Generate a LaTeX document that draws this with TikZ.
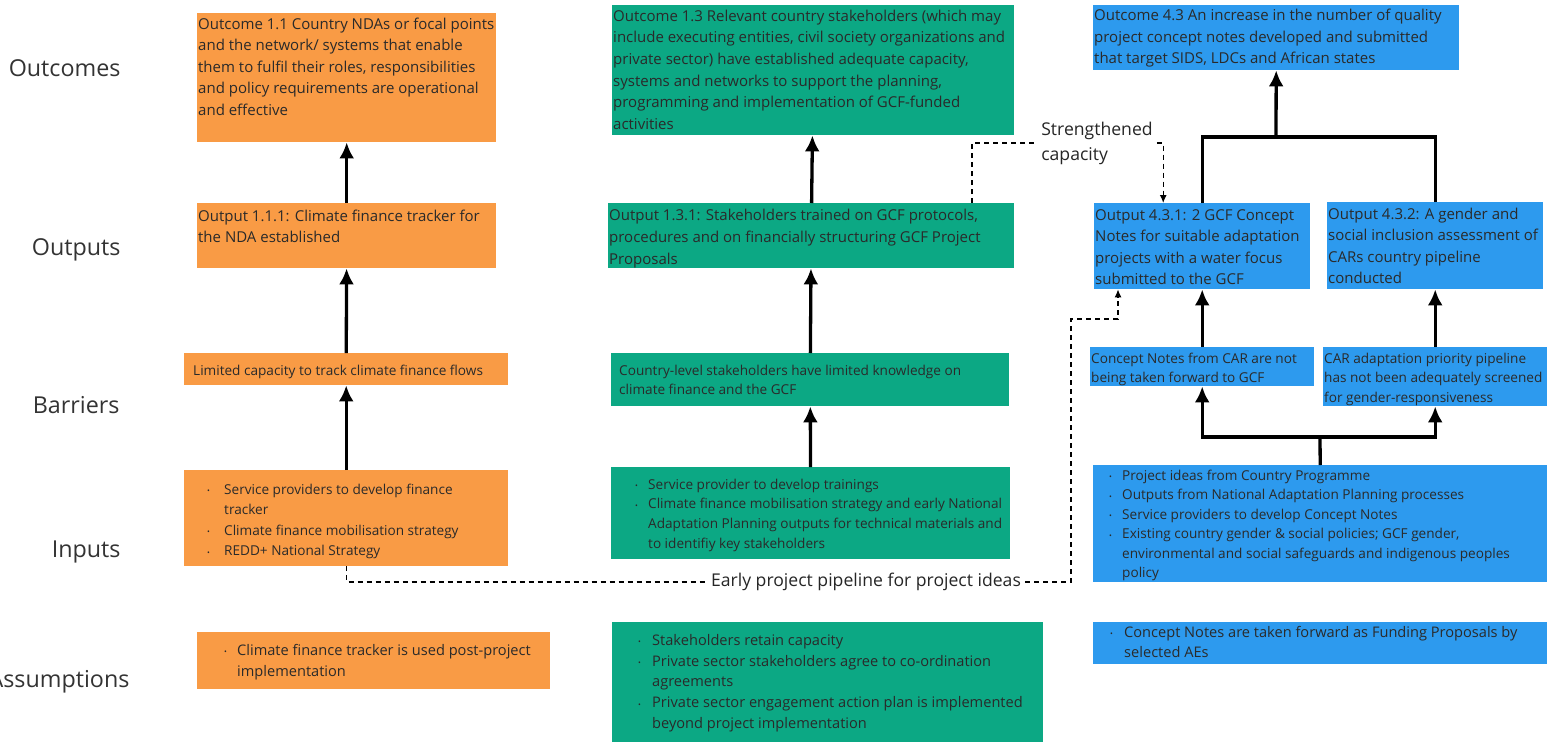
\documentclass[tikz,border=0pt]{standalone}
\usepackage{fontspec}
\setmainfont{Open Sans}
\usepackage{xcolor}
\usetikzlibrary{arrows.meta}
\definecolor{orbox}{HTML}{F99B45}
\definecolor{grbox}{HTML}{0CA884}
\definecolor{blbox}{HTML}{2D9AEE}
\definecolor{txt}{HTML}{2A2A2A}
\newcommand\fs[2]{\fontsize{#1pt}{#2pt}\selectfont}
\newcommand\bul{\raisebox{0.5pt}{\fontsize{7.5pt}{7.5pt}\selectfont\textbullet}}
% width, height, left pad, first baseline, text
\newcommand\tbox[5]{\parbox[t][#2pt][t]{#1pt}{\raggedright\leftskip=#3pt\rule{0pt}{#4pt}#5}}
\newcommand\lbox[3]{\parbox[t][#2pt][t]{#1pt}{\raggedright#3}}
\newcommand\itm[4][0]{\par\leftskip=#3pt\noindent\rule{0pt}{#1pt}\hspace*{\dimexpr#2pt-#3pt\relax}\makebox[\dimexpr#3pt-#2pt\relax][l]{\bul}#4\par}
\tikzset{
  tbx/.style={anchor=north west, inner sep=0pt, text=txt},
  orangebox/.style={tbx, fill=orbox},
  greenbox/.style={tbx, fill=grbox},
  bluebox/.style={tbx, fill=blbox},
  lvl/.style={anchor=base east, font=\fs{23.3}{27}, text=black!80},
  arr/.style={line width=3.3pt, -{Latex[length=16pt,width=15pt]}},
  conn/.style={line width=3.3pt},
  dsh/.style={line width=1.2pt, dash pattern=on 5pt off 4pt},
  darr/.style={dsh, -{Latex[length=8pt,width=7pt]}},
  note/.style={fill=white, font=\fs{17.6}{25}, inner sep=4pt, align=left, text=black!85}
}
\begin{document}
\begin{tikzpicture}[x=1pt,y=-1pt]
\fill[white] (0,0) rectangle (1552,747);
\useasboundingbox (0,0) rectangle (1552,747);

\node[lvl] (lOutcomes) at (124,76) {Outcomes};
\node[lvl] (lOutputs) at (124,255) {Outputs};
\node[lvl] (lBarriers) at (123,413) {Barriers};
\node[lvl] (lInputs) at (124,557) {Inputs};
\node[lvl] (lAssumptions) at (133,687) {Assumptions};

% orange column
\node[orangebox, font=\fs{15}{21.5}] (oc11) at (197,13) {\tbox{299}{129}{1}{16}{Outcome 1.1 Country NDAs or focal points\\and the network/ systems that enable\\them to fulfil their roles, responsibilities\\and policy requirements are operational\\and effective}};
\node[orangebox, font=\fs{15}{21.5}] (op111) at (197,203) {\tbox{299}{65}{1}{18}{Output 1.1.1: Climate finance tracker for\\the NDA established}};
\node[orangebox, font=\fs{13.6}{18}] (obar) at (184,353) {\tbox{324}{32}{9}{22}{Limited capacity to track climate finance flows}};
\node[orangebox, font=\fs{13.6}{20.5}] (oin) at (184,470) {\lbox{324}{96}{\itm[24]{23}{40}{Service providers to develop finance\\tracker}\itm{23}{40}{Climate finance mobilisation strategy}\itm{23}{40}{REDD+ National Strategy}}};
\node[orangebox, font=\fs{14.6}{21}] (oas) at (197,632) {\lbox{353}{57}{\itm[23]{27}{40}{Climate finance tracker is used post-project\\implementation}}};

% green column
\node[greenbox, font=\fs{15}{21.6}] (oc13) at (612,5) {\tbox{402}{130}{1}{16}{Outcome 1.3 Relevant country stakeholders (which may\\include executing entities, civil society organizations and\\private sector) have established adequate capacity,\\systems and networks to support the planning,\\programming and implementation of GCF-funded\\activities}};
\node[greenbox, font=\fs{15}{22}] (op131) at (608,203) {\tbox{406}{65}{1}{17}{Output 1.3.1: Stakeholders trained on GCF protocols,\\procedures and on financially structuring GCF Project\\Proposals}};
\node[greenbox, font=\fs{13.6}{19.3}] (gbar) at (611,353) {\tbox{398}{53}{8}{22}{Country-level stakeholders have limited knowledge on\\climate finance and the GCF}};
\node[greenbox, font=\fs{13.6}{19.7}] (gin) at (611,467) {\lbox{399}{92}{\itm[22]{24}{37}{Service provider to develop trainings}\itm{24}{37}{Climate finance mobilisation strategy and early National\\Adaptation Planning outputs for technical materials and\\to identifiy key stakeholders}}};
\node[greenbox, font=\fs{14.6}{20.8}] (gas) at (612,622) {\lbox{431}{120}{\itm[23]{26}{40}{Stakeholders retain capacity}\itm{26}{40}{Private sector stakeholders agree to co-ordination\\agreements}\itm{26}{40}{Private sector engagement action plan is implemented\\beyond project implementation}}};

% blue column
\node[bluebox, font=\fs{15}{21.8}] (oc43) at (1093,5) {\tbox{366}{65}{1}{15}{Outcome 4.3 An increase in the number of quality\\project concept notes developed and submitted\\that target SIDS, LDCs and African states}};
\node[bluebox, font=\fs{15}{21.4}] (op431) at (1094,203) {\tbox{216}{86}{1}{17}{Output 4.3.1: 2 GCF Concept\\Notes for suitable adaptation\\projects with a water focus\\submitted to the GCF}};
\node[bluebox, font=\fs{15}{21.4}] (op432) at (1327,202) {\tbox{216}{87}{1}{17}{Output 4.3.2: A gender and\\social inclusion assessment of\\CARs country pipeline\\conducted}};
\node[bluebox, font=\fs{13.6}{19.4}] (bbar1) at (1090,347) {\tbox{224}{39}{1}{16}{Concept Notes from CAR are not\\being taken forward to GCF}};
\node[bluebox, font=\fs{13.6}{19.5}] (bbar2) at (1323,347) {\tbox{224}{59}{1}{16}{CAR adaptation priority pipeline\\has not been adequately screened\\for gender-responsiveness}};
\node[bluebox, font=\fs{13.6}{19.5}] (bin) at (1093,465) {\lbox{454}{117}{\itm[15]{16}{29}{Project ideas from Country Programme}\itm{16}{29}{Outputs from National Adaptation Planning processes}\itm{16}{29}{Service providers to develop Concept Notes}\itm{16}{29}{Existing country gender \& social policies; GCF gender,\\environmental and social safeguards and indigenous peoples\\policy}}};
\node[bluebox, font=\fs{14.6}{20.7}] (bas) at (1093,622) {\lbox{454}{42}{\itm[15]{17}{31}{Concept Notes are taken forward as Funding Proposals by\\selected AEs}}};

\draw[arr] (op111) -- (oc11);
\draw[arr] (obar) -- (op111);
\draw[arr] (oin) -- (obar);
\draw[arr] (op131) -- (oc13);
\draw[arr] (gbar) -- (op131);
\draw[arr] (gin) -- (gbar);

\coordinate (j43) at (1276,137);
\draw[conn] (op431.north) |- (j43) -| (op432.north);
\draw[arr] (j43) -- (oc43.south);
\draw[arr] (bbar1) -- (op431);
\draw[arr] (bbar2) -- (op432);
\coordinate (jin) at (1320,437);
\draw[conn] (bin.north) -- (jin);
\draw[arr] (jin) -| (bbar1.south);
\draw[arr] (jin) -| (bbar2.south);

\node[note] (stc) at (1097,143) {Strengthened\\capacity};
\coordinate (stc1) at (972,203);
\draw[dsh] (stc1) |- (stc.west);
\draw[darr] (stc.east) -| ([xshift=-39pt]op431.north);

\node[note] (epp) at (866,582) {Early project pipeline for project ideas};
\coordinate (epc) at (1071,319);
\draw[dsh] (oin.south) |- (epp.west);
\draw[darr] (epp.east) -| (epc) -| ([xshift=24pt]op431.south west);
\end{tikzpicture}
\end{document}
